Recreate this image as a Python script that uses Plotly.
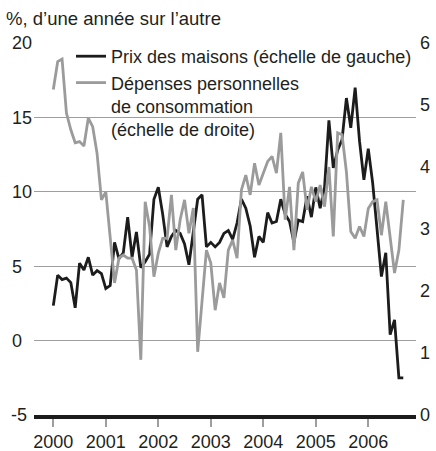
import plotly.graph_objects as go

# Monthly data, Jan 2000 - Sep 2006
years = [2000 + m / 12 for m in range(81)]

house_prices = [2.35, 4.4, 4.1, 4.2, 3.9, 2.2, 5.2, 4.75, 5.6, 4.4,
                4.7, 4.5, 3.5, 3.7, 6.6, 5.5, 5.9, 8.3, 5.6, 7.3,
                4.9, 5.3, 5.8, 9.5, 10.3, 8.5, 6.3, 7.0, 7.4, 7.2,
                6.5, 5.1, 7.3, 9.5, 9.8, 6.3, 6.6, 6.3, 6.6, 7.2,
                7.4, 6.8, 7.9, 9.5, 8.9, 7.7, 5.6, 7.0, 6.6, 8.6,
                7.9, 8.0, 9.5, 8.5, 8.0, 6.6, 8.1, 8.0, 9.7, 8.3,
                10.3, 8.9, 10.3, 14.8, 11.6, 12.8, 13.5, 16.3, 14.3, 17.0,
                13.4, 10.8, 12.9, 10.6, 7.5, 4.3, 5.9, 0.4, 1.4, -2.5, -2.5]

consumption = [5.25, 5.70, 5.74, 4.87, 4.60, 4.39, 4.41, 4.34, 4.79, 4.65,
               4.22, 3.47, 3.60, 2.82, 2.13, 2.53, 2.58, 2.53, 2.53, 2.34,
               0.89, 3.44, 3.04, 2.23, 2.61, 2.85, 2.85, 3.55, 2.66, 3.15,
               3.47, 2.93, 3.34, 1.02, 1.91, 2.66, 2.45, 1.69, 2.13, 1.89,
               2.66, 2.82, 2.53, 3.63, 3.87, 3.55, 4.06, 3.71, 3.90, 4.09,
               4.17, 3.90, 4.55, 3.15, 3.68, 2.66, 3.74, 3.92, 3.31, 3.68,
               3.44, 3.71, 3.36, 4.00, 2.88, 4.55, 4.52, 3.92, 2.96, 2.85,
               3.04, 2.88, 3.33, 3.44, 3.47, 2.90, 3.44, 2.88, 2.29, 2.66, 3.47]

x_ticks = [2000, 2001, 2002, 2003, 2004, 2005, 2006]
left_ticks = [-5, 0, 5, 10, 15, 20]
left_labels = ["-5\u00a0", "0\u00a0\u00a0", "5\u00a0\u00a0", "10", "15", "20"]
right_ticks = [0, 1, 2, 3, 4, 5, 6]

name_black = "Prix des maisons (échelle de gauche)"
name_gray = "Dépenses personnelles<br>de consommation<br>(échelle de droite)"

BLACK = "#1c1c1c"
GRAY = "#9b9b9b"
GRID = "#9e9e9e"
FONT = "Liberation Sans, Arial, Helvetica, sans-serif"
TXT = "#231f20"
FS = 18

fig = go.Figure()
fig.add_trace(go.Scatter(x=years, y=house_prices, mode="lines", name=name_black,
                         line=dict(color=BLACK, width=2.8), yaxis="y"))
fig.add_trace(go.Scatter(x=years, y=consumption, mode="lines", name=name_gray,
                         line=dict(color=GRAY, width=2.8), yaxis="y2"))

fig.update_layout(
    width=436, height=451,
    margin=dict(l=34, r=20, t=43, b=36, pad=0, autoexpand=False),
    paper_bgcolor="white", plot_bgcolor="white",
    font=dict(family=FONT, size=FS, color=TXT),
    title=dict(text="%, d’une année sur l’autre", x=0, xanchor="left",
               xref="container", yref="container", y=1 - 19 / 451, yanchor="middle",
               pad=dict(l=6),
               font=dict(family=FONT, size=18.5, color=TXT)),
    showlegend=True,
    legend=dict(x=(71 - 34) / 382, y=1 + 5 / 372, xanchor="left", yanchor="top",
                bgcolor="rgba(0,0,0,0)", borderwidth=0, valign="top",
                font=dict(family=FONT, size=FS, color=TXT),
                tracegroupgap=0, itemwidth=30),
    xaxis=dict(range=[1999.632, 2006.909], tickvals=x_ticks,
               ticktext=[str(t) for t in x_ticks],
               showgrid=False, zeroline=False,
               showline=True, linecolor=BLACK, linewidth=3.5,
               ticks="outside", ticklen=8, tickwidth=1.5, tickcolor=GRID,
               tickfont=dict(family=FONT, size=FS, color=TXT)),
    yaxis=dict(range=[-5, 20], tickvals=left_ticks, ticktext=left_labels,
               showgrid=True, gridcolor=GRID, gridwidth=1.3,
               zeroline=False, showline=False, ticks="",
               ticklabelstandoff=1,
               tickfont=dict(family=FONT, size=FS, color=TXT)),
    yaxis2=dict(range=[0, 6], tickvals=right_ticks, overlaying="y", side="right",
                showgrid=False, zeroline=False, showline=False, ticks="",
                ticklabelstandoff=3,
                tickfont=dict(family=FONT, size=FS, color=TXT)),
    shapes=[dict(type="rect", xref="paper", yref="paper", layer="between",
                 x0=(103 - 34) / 382, x1=(265 - 34) / 382,
                 y0=(415 - 126) / 372, y1=(415 - 110) / 372,
                 fillcolor="white", line=dict(width=0))],
)

fig.write_html("out.html", config={"displayModeBar": False},
               post_script="document.body.style.margin='0';")
